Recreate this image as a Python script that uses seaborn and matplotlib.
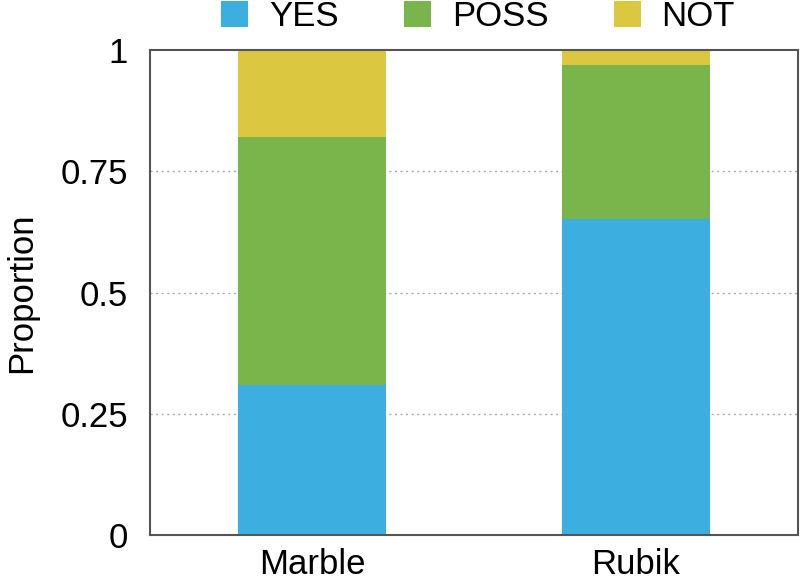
import matplotlib
matplotlib.use("Agg")
import matplotlib.pyplot as plt
import seaborn as sns
import pandas as pd
import numpy as np
from matplotlib.patches import Patch

categories = ["Marble", "Rubik"]
series = ["YES", "POSS", "NOT"]
yes = [0.309, 0.651]
poss = [0.512, 0.318]
not_ = [0.179, 0.031]
colors = {"YES": "#3DAEE0", "POSS": "#7AB54C", "NOT": "#DBC840"}
yticks = [0, 0.25, 0.5, 0.75, 1]
ytick_labels = ["0", "0.25", "0.5", "0.75", "1"]

sns.set_theme(style="white")
plt.rcParams["font.family"] = ["Liberation Sans", "DejaVu Sans"]
plt.rcParams["text.color"] = "black"
plt.rcParams["axes.labelcolor"] = "black"
plt.rcParams["xtick.color"] = "black"
plt.rcParams["ytick.color"] = "black"

vals = {"YES": np.array(yes), "POSS": np.array(poss), "NOT": np.array(not_)}
cum = {}
running = np.zeros(len(categories))
for s in series:
    running = running + vals[s]
    cum[s] = running.copy()

fig = plt.figure(figsize=(8.0, 5.88), dpi=100)
ax = fig.add_axes([150 / 800, 1 - 535 / 588, 648 / 800, 485 / 588])

for s in reversed(series):
    df = pd.DataFrame({"cat": categories, "top": cum[s]})
    sns.barplot(data=df, x="cat", y="top", color=colors[s], width=0.457,
                saturation=1, ax=ax, zorder=2, linewidth=0)

ax.set_xlim(-0.5, 1.5)
ax.set_ylim(0, 1)
ax.set_yticks(yticks)
ax.set_yticklabels(ytick_labels)
for y in yticks[1:-1]:
    ax.axhline(y, color="#AAAAAA", linestyle=(0, (1.5, 2.5)), linewidth=1.0, zorder=1)

ax.set_xlabel("")
ax.set_ylabel("Proportion", fontsize=25, labelpad=16)
ax.tick_params(axis="both", labelsize=25, length=0, colors="black")
ax.tick_params(axis="y", pad=16)
ax.tick_params(axis="x", pad=9)
for sp in ax.spines.values():
    sp.set_color("#555555")
    sp.set_linewidth(1.5)

handles = [Patch(facecolor=colors[s], edgecolor="none", label=s) for s in series]
leg = ax.legend(handles=handles, loc="upper center", bbox_to_anchor=(478 / 800, 1.0),
                bbox_transform=fig.transFigure, ncol=3,
                frameon=False, fontsize=25, handlelength=0.78, handleheight=0.78,
                handletextpad=0.6, columnspacing=1.88, borderpad=0.0, borderaxespad=0.0)
for t in leg.get_texts():
    t.set_color("black")

fig.savefig("out.png", dpi=100)
